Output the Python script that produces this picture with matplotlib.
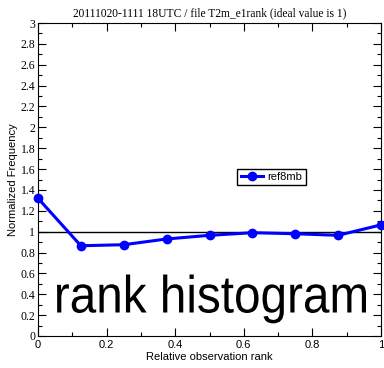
import matplotlib.pyplot as plt
from matplotlib.ticker import MultipleLocator
from matplotlib.textpath import TextPath
from matplotlib.patches import PathPatch
from matplotlib.font_manager import FontProperties
from matplotlib.transforms import Affine2D, IdentityTransform

# rank histogram values for ref8mb
ranks = [0.0, 0.125, 0.25, 0.375, 0.5, 0.625, 0.75, 0.875, 1.0]
freq = [1.32, 0.865, 0.875, 0.93, 0.965, 0.99, 0.98, 0.965, 1.065]
series_name = "ref8mb"
title = "20111020-1111 18UTC / file T2m_e1rank (ideal value is 1)"
banner = "rank histogram"

fig = plt.figure(figsize=(3.84, 3.68), dpi=100)
ax = fig.add_axes([38 / 384, 32 / 368, 343 / 384, 313 / 368])

ax.axhline(1.0, color="black", lw=1.0)
ax.plot(ranks, freq, color="#0000ff", lw=2.2, marker="o", ms=6,
        label=series_name, clip_on=False, zorder=3)

ax.set_xlim(0, 1)
ax.set_ylim(0, 3)
ax.xaxis.set_minor_locator(MultipleLocator(0.1))
ax.yaxis.set_minor_locator(MultipleLocator(0.1))
ax.tick_params(which="both", direction="in", top=True, right=True, width=0.8)
ax.tick_params(which="major", length=6)
ax.tick_params(which="minor", length=3)
ax.set_xticks([0, 0.2, 0.4, 0.6, 0.8, 1.0])
ax.set_xticklabels(["0", "0.2", "0.4", "0.6", "0.8", "1"],
                   family="Liberation Sans", fontsize=8)
yt = [i * 0.2 for i in range(16)]
ax.set_yticks(yt)
ax.set_yticklabels(["%g" % round(v, 1) for v in yt],
                   family="Liberation Serif", fontsize=8.5)
ax.tick_params(axis="x", pad=3)
ax.tick_params(axis="y", pad=2)

ax.set_xlabel("Relative observation rank", family="Liberation Sans",
              fontsize=8, labelpad=1)
ax.set_ylabel("Normalized Frequency", family="Liberation Sans",
              fontsize=8, labelpad=2)
ax.set_title(title, family="Liberation Serif", fontsize=8.3, pad=5)

# big banner text in the lower part of the plot (pixel units)
tp = TextPath((0, 0), banner, size=1, prop=FontProperties(family="Liberation Sans"))
ext = tp.get_extents()
sx = 309 / (ext.x1 - ext.x0)
sy = 38 / ext.y1
tr = Affine2D().scale(sx, sy).translate(57 - ext.x0 * sx, 55.5)
fig.patches.append(PathPatch(tp, transform=tr + IdentityTransform(),
                             facecolor="black", edgecolor="none", zorder=5))

ax.legend(loc="upper left", bbox_to_anchor=(0.565, 0.552),
          prop={"family": "Liberation Sans", "size": 8},
          fancybox=False, edgecolor="black", handlelength=2,
          borderpad=0.3, handletextpad=0.4, framealpha=1)

fig.savefig("out.png", dpi=100)
